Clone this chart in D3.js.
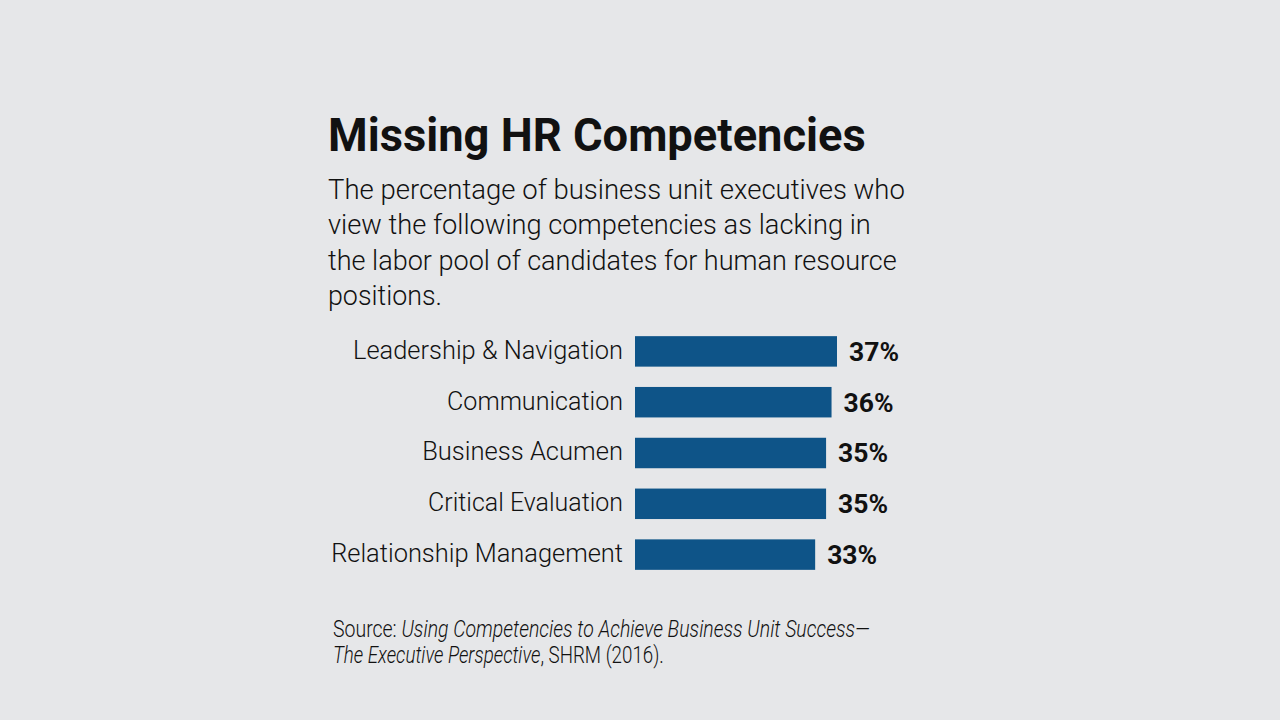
<!DOCTYPE html>
<html>
<head>
<meta charset="utf-8">
<script src="https://cdn.jsdelivr.net/npm/d3@7"></script>
<style>
  html, body { margin: 0; padding: 0; background: #e6e7e9; }
  svg { display: block; }
</style>
</head>
<body>
<div id="chart"></div>
<script>
// chart data
var categories = ["Leadership & Navigation", "Communication", "Business Acumen",
                  "Critical Evaluation", "Relationship Management"];
var values = [37, 36, 35, 35, 33];
var valueLabels = ["37%", "36%", "35%", "35%", "33%"];

var titleText = "Missing HR Competencies";
var subtitleLines = ["The percentage of business unit executives who",
                     "view the following competencies as lacking in",
                     "the labor pool of candidates for human resource",
                     "positions."];

var W = 1280, H = 720;
var svg = d3.select("#chart").append("svg")
  .attr("width", W)
  .attr("height", H);

svg.append("rect").attr("width", W).attr("height", H).attr("fill", "#e6e7e9");

// squeeze a text node horizontally so it spans the wanted width (condensed look)
function fitWidth(sel, target, anchorX) {
  var w = sel.node().getComputedTextLength();
  var k = target / w;
  sel.attr("transform", "translate(" + anchorX + ",0) scale(" + k + ",1) translate(" + (-anchorX) + ",0)");
}

var ink = "#111111";
var font = "Roboto, 'Liberation Sans', sans-serif";

// title
var title = svg.append("text")
  .attr("x", 328).attr("y", 151)
  .attr("font-family", font)
  .attr("font-weight", 700)
  .attr("font-size", 46)
  .attr("fill", ink)
  .text(titleText);
fitWidth(title, 538, 328);

// subtitle
var subWidths = [577, 543, 569, 114];
subtitleLines.forEach(function (line, i) {
  var t = svg.append("text")
    .attr("x", 328).attr("y", 199 + i * 35.5)
    .attr("font-family", font)
    .attr("font-weight", 300)
    .attr("font-size", 28)
    .attr("fill", ink)
    .text(line);
  fitWidth(t, subWidths[i], 328);
});

// scales
var y = d3.scaleBand()
  .domain(categories)
  .range([326, 580])
  .paddingInner(0.4)
  .paddingOuter(0.2);

var x = d3.scaleLinear()
  .domain([0, d3.max(values)])
  .range([635, 837]);

var data = categories.map(function (c, i) {
  return { name: c, value: values[i], label: valueLabels[i] };
});

// bars
svg.selectAll(".bar")
  .data(data)
  .enter().append("rect")
    .attr("class", "bar")
    .attr("x", x(0))
    .attr("y", function (d) { return y(d.name); })
    .attr("width", function (d) { return x(d.value) - x(0); })
    .attr("height", y.bandwidth())
    .attr("fill", "#0e5488");

// category labels (right aligned next to the bars)
var labelWidths = [270, 176, 201, 195, 292];
svg.selectAll(".cat")
  .data(data)
  .enter().append("text")
    .attr("class", "cat")
    .attr("x", 623)
    .attr("y", function (d) { return y(d.name) + y.bandwidth() / 2 + 7.5; })
    .attr("text-anchor", "end")
    .attr("font-family", font)
    .attr("font-weight", 300)
    .attr("font-size", 25)
    .attr("fill", ink)
    .text(function (d) { return d.name; })
    .each(function (d, i) { fitWidth(d3.select(this), labelWidths[i], 623); });

// value labels
svg.selectAll(".val")
  .data(data)
  .enter().append("text")
    .attr("class", "val")
    .attr("x", function (d) { return x(d.value) + 12; })
    .attr("y", function (d) { return y(d.name) + y.bandwidth() / 2 + 9.5; })
    .attr("font-family", font)
    .attr("font-weight", 700)
    .attr("font-size", 26)
    .attr("fill", ink)
    .text(function (d) { return d.label; })
    .each(function (d) {
      var s = d3.select(this);
      fitWidth(s, 50, +s.attr("x"));
    });

// source note
var src1 = svg.append("text")
  .attr("x", 333).attr("y", 637)
  .attr("font-family", font)
  .attr("font-weight", 300)
  .attr("font-size", 24)
  .attr("fill", ink);
src1.append("tspan").text("Source: ");
src1.append("tspan").attr("font-style", "italic")
  .text("Using Competencies to Achieve Business Unit Success\u2014");
fitWidth(src1, 537, 333);

var src2 = svg.append("text")
  .attr("x", 333).attr("y", 663)
  .attr("font-family", font)
  .attr("font-weight", 300)
  .attr("font-size", 24)
  .attr("fill", ink);
src2.append("tspan").attr("font-style", "italic").text("The Executive Perspective");
src2.append("tspan").text(", SHRM (2016).");
fitWidth(src2, 331, 333);
</script>
</body>
</html>
